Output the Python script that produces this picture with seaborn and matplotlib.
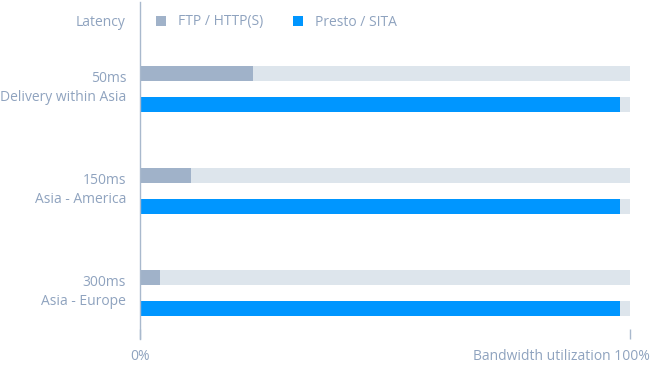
import matplotlib
matplotlib.use("Agg")
import matplotlib.pyplot as plt
import matplotlib.transforms as mtransforms
import seaborn as sns
import pandas as pd
from matplotlib.patches import Patch

categories = ["50ms\nDelivery within Asia", "150ms\nAsia - America", "300ms\nAsia - Europe"]
series = ["FTP / HTTP(S)", "Presto / SITA"]
ftp_values = [23, 10.5, 4]
presto_values = [98, 98, 98]
track_value = 100

TEXT = "#8fa3bf"
FTP_C = "#a0b2c9"
PRESTO_C = "#0096ff"
TRACK_C = "#dde5ec"
AXIS_C = "#a9b9cd"
FS = 10

sns.set_theme(style="white")
plt.rcParams["font.family"] = ["Open Sans", "DejaVu Sans"]

df = pd.DataFrame({
    "cat": categories * 2,
    "series": [series[0]] * 3 + [series[1]] * 3,
    "value": ftp_values + presto_values,
})
track = df.copy()
track["value"] = track_value

W, H = 650, 366
fig = plt.figure(figsize=(W / 100, H / 100), dpi=100)
x0, x1, ytop, ybot = 140, 630, 2, 339
ax = fig.add_axes([x0 / W, 1 - ybot / H, (x1 - x0) / W, (ybot - ytop) / H])

kw = dict(y="cat", x="value", hue="series", orient="h", width=0.608, gap=0.516,
          ax=ax, legend=False, saturation=1, linewidth=0, order=categories, hue_order=series)
sns.barplot(data=track, palette=[TRACK_C, TRACK_C], **kw)
sns.barplot(data=df, palette=[FTP_C, PRESTO_C], **kw)

ax.set_xlim(0, 100)
ax.set_ylim(2.451, -0.853)
ax.set_xlabel("")
ax.set_ylabel("")
for s in ["top", "right", "bottom"]:
    ax.spines[s].set_visible(False)
ax.spines["left"].set_color(AXIS_C)
ax.spines["left"].set_linewidth(1)

ax.tick_params(axis="y", length=0, pad=10, labelsize=FS, labelcolor=TEXT)
shift = mtransforms.ScaledTranslation(0, 5 / 100, fig.dpi_scale_trans)
for lbl in ax.get_yticklabels():
    lbl.set_multialignment("right")
    lbl.set_linespacing(1.35)
    lbl.set_transform(lbl.get_transform() + shift)
ax.set_xticks([0, 100])
ax.set_xticklabels([])
ax.tick_params(axis="x", direction="in", length=7.2, width=1, color=AXIS_C, bottom=True)

fig.text(140 / W, 1 - 357 / H, "0%", ha="center", va="center", fontsize=FS, color=TEXT)
fig.text(650 / W, 1 - 357 / H, "Bandwidth utilization 100%", ha="right", va="center",
         fontsize=FS, color=TEXT)
fig.text(126 / W, 1 - 22 / H, "Latency", ha="right", va="center", fontsize=FS, color=TEXT)

handles = [Patch(facecolor=FTP_C, edgecolor="none"), Patch(facecolor=PRESTO_C, edgecolor="none")]
leg = fig.legend(handles, series, loc="center left", bbox_to_anchor=(156 / W, 1 - 22 / H),
                 ncol=2, frameon=False, fontsize=FS, handlelength=0.75, handleheight=0.75,
                 handletextpad=0.85, columnspacing=2.1, borderpad=0, borderaxespad=0)
for t in leg.get_texts():
    t.set_color(TEXT)

fig.savefig("out.png", dpi=100)
